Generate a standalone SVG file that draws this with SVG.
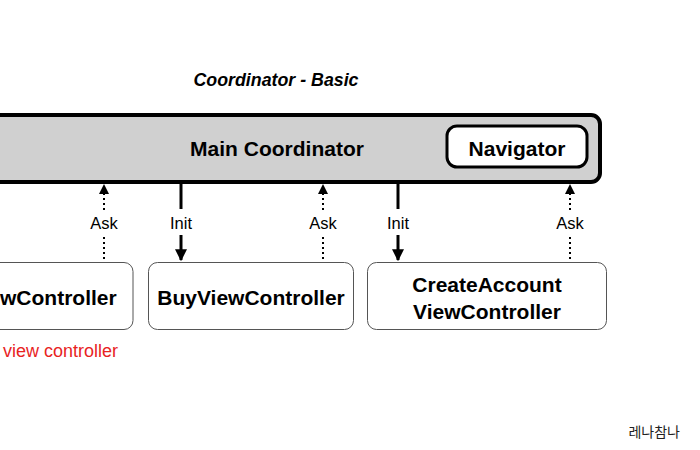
<svg xmlns="http://www.w3.org/2000/svg" width="700" height="450" viewBox="0 0 700 450">
<defs>
<marker id="ah" viewBox="0 0 10 10" refX="9" refY="5" markerWidth="4" markerHeight="4" orient="auto" markerUnits="strokeWidth"><path d="M0,0 L10,5 L0,10 z" fill="#000"/></marker>
<marker id="ahs" viewBox="0 0 10 10" refX="9" refY="5" markerWidth="5" markerHeight="5" orient="auto" markerUnits="strokeWidth"><path d="M0,0 L10,5 L0,10 z" fill="#000"/></marker>
</defs>
<style>
text{font-family:"Liberation Sans",Arial,sans-serif;fill:#000}
.b{font-weight:bold;font-size:21px}
.lbl{font-size:16.5px}
.vc{fill:#fff;stroke:#555;stroke-width:1}
.init{stroke:#000;stroke-width:3;fill:none}
.ask{stroke:#000;stroke-width:2;stroke-dasharray:2 3;fill:none}
</style>
<rect width="700" height="450" fill="#fff"/>
<text x="276" y="86" text-anchor="middle" style="font-weight:bold;font-style:italic;font-size:17.8px">Coordinator - Basic</text>
<g id="main">
<rect x="-20" y="115" width="620" height="67" rx="9" fill="#d0d0d0" stroke="#000" stroke-width="4"/>
<text x="277" y="156" text-anchor="middle" class="b">Main Coordinator</text>
</g>
<g id="navigator">
<rect x="447" y="126" width="140" height="41" rx="10" fill="#fff" stroke="#000" stroke-width="3"/>
<text x="517" y="156" text-anchor="middle" class="b">Navigator</text>
</g>
<g id="vc1">
<rect x="-20" y="262.5" width="153" height="67" rx="9" class="vc"/>
<text x="0" y="304.5" class="b">wController</text>
</g>
<g id="vc2">
<rect x="148.5" y="262.5" width="205" height="67" rx="9" class="vc"/>
<text x="251" y="304.5" text-anchor="middle" class="b">BuyViewController</text>
</g>
<g id="vc3">
<rect x="367.5" y="262.5" width="239" height="67" rx="9" class="vc"/>
<text x="487" y="291.5" text-anchor="middle" class="b">CreateAccount</text>
<text x="487" y="318.5" text-anchor="middle" class="b">ViewController</text>
</g>
<text x="3" y="357" style="font-size:18px;fill:#e8231f">view controller</text>
<g id="connectors">
<line x1="181" y1="183" x2="181" y2="209" class="init"/>
<line x1="181" y1="235" x2="181" y2="260" class="init" marker-end="url(#ah)"/>
<line x1="398" y1="183" x2="398" y2="209" class="init"/>
<line x1="398" y1="235" x2="398" y2="260" class="init" marker-end="url(#ah)"/>
<line x1="104" y1="259" x2="104" y2="236" class="ask"/>
<line x1="104" y1="210" x2="104" y2="185" class="ask" marker-end="url(#ahs)"/>
<line x1="323" y1="259" x2="323" y2="236" class="ask"/>
<line x1="323" y1="210" x2="323" y2="185" class="ask" marker-end="url(#ahs)"/>
<line x1="570" y1="259" x2="570" y2="236" class="ask"/>
<line x1="570" y1="210" x2="570" y2="185" class="ask" marker-end="url(#ahs)"/>
<text x="181" y="229" text-anchor="middle" class="lbl">Init</text>
<text x="398" y="229" text-anchor="middle" class="lbl">Init</text>
<text x="104" y="229" text-anchor="middle" class="lbl">Ask</text>
<text x="323" y="229" text-anchor="middle" class="lbl">Ask</text>
<text x="570" y="229" text-anchor="middle" class="lbl">Ask</text>
</g>
<text x="680" y="437" text-anchor="end" style="font-family:'Noto Sans CJK KR','Liberation Sans',sans-serif;font-size:14px;fill:#222">레나참나</text>
</svg>
